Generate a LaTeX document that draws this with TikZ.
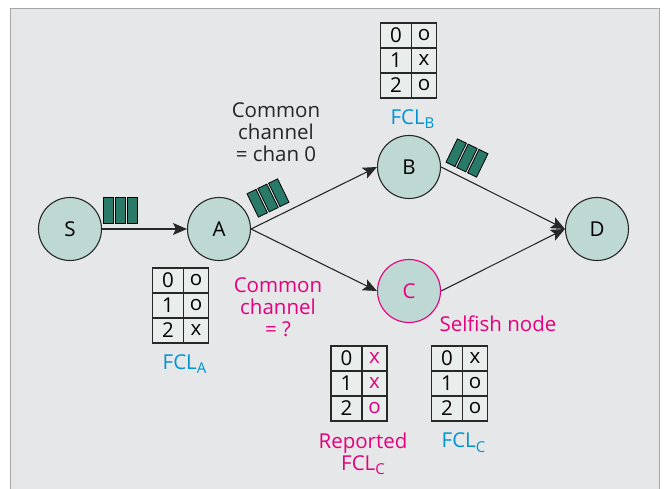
\documentclass[tikz,border=0pt]{standalone}
\usepackage{fontspec}
\setmainfont{Open Sans}
\usetikzlibrary{arrows.meta, positioning, matrix}
\definecolor{bggray}{RGB}{230,231,232}
\definecolor{nodefill}{RGB}{190,216,211}
\definecolor{pktgreen}{RGB}{42,122,106}
\definecolor{mypink}{RGB}{229,0,125}
\definecolor{myblue}{RGB}{0,147,213}
\definecolor{cellfill}{RGB}{233,238,237}
\definecolor{linegray}{RGB}{40,40,40}

\newcommand{\bigfont}{\fontsize{20.5}{22}\selectfont}
\newcommand{\lowsub}[1]{\raisebox{-0.4ex}{\fontsize{15}{15}\selectfont #1}}
% three packets queued on a link
\newcommand{\pktgroup}[2]{%
  \begin{scope}[shift={#1}, rotate=#2]
    \foreach \dx in {-12,0,12} {
      \draw[packet] (\dx-5,-13) rectangle (\dx+5,13);
    }
  \end{scope}}

\tikzset{
  station/.style={circle, draw=linegray, line width=1.1pt, fill=nodefill,
    minimum size=63pt, inner sep=0pt, font=\bigfont},
  link/.style={line width=1.1pt, draw=linegray,
    -{Stealth[length=14pt, width=12pt, inset=3pt]}},
  packet/.style={draw=black, line width=0.8pt, fill=pktgreen},
  fcl/.style={matrix of nodes, column sep=-1.4pt, row sep=-1.4pt,
    nodes={draw=linegray, line width=1.4pt, fill=cellfill, minimum height=25pt,
      inner sep=0pt, anchor=center, font=\bigfont},
    column 1/.style={nodes={minimum width=31pt}},
    column 2/.style={nodes={minimum width=25pt}}},
  lbl/.style={align=center, font=\bigfont},
}

\begin{document}
\begin{tikzpicture}[x=1pt, y=-1pt]
    \useasboundingbox (0,0) rectangle (664,489);
    % Panel background
    \fill[bggray] (10,8) rectangle (659,500);
    \draw[gray!70, line width=0.8pt] (10,500) -- (10,8) -- (659,8) -- (659,500);

    % Stations
    \node[station] (S) at (70,229) {S};
    \node[station] (A) at (219,229) {A};
    \node[station] (B) at (409,167) {B};
    \node[station, draw=mypink, text=mypink] (C) at (409,291) {C};
    \node[station] (D) at (597,229) {D};

    % Links
    \draw[link] (S.east) -- (A.west);
    \draw[link] (A.east) -- (B.west);
    \draw[link] (A.east) -- (C.west);
    \draw[link] (B.east) -- (D.west);
    \draw[link] (C.east) -- (D.west);

    % Packets on the links
    \pktgroup{(120,210)}{0}
    \pktgroup{(268,198)}{26}
    \pktgroup{(467,158)}{-26}

    % Channel lists
    \matrix (fclA) [fcl] at (180.5,305.5) {0 & o \\ 1 & o \\ 2 & x \\};
    \matrix (fclB) [fcl] at (408.5,60.5) {0 & o \\ 1 & x \\ 2 & o \\};
    \matrix (fclR) [fcl] at (359,383.5) {0 & |[text=mypink]| x \\ 1 & |[text=mypink]| x \\ 2 & |[text=mypink]| o \\};
    \matrix (fclC) [fcl] at (459.5,383.5) {0 & x \\ 1 & o \\ 2 & o \\};

    \node[lbl, myblue, below=4pt of fclA, xshift=4pt] (labA) {FCL\lowsub{A}};
    \node[lbl, myblue, below=4pt of fclB, xshift=4pt] (labB) {FCL\lowsub{B}};
    \node[lbl, mypink, below=4pt of fclR, xshift=4pt] (labR) {Reported\\FCL\lowsub{C}};
    \node[lbl, myblue, below=4pt of fclC, xshift=4pt] (labC) {FCL\lowsub{C}};

    % Notes
    \node[lbl, text=black!85] (chan0) at (276,132) {Common\\channel\\= chan 0};
    \node[lbl, mypink] (chanq) at (278,307) {Common\\channel\\= ?};
    \node[lbl, mypink, anchor=west] (selfish) at (436,324) {Selfish node};
\end{tikzpicture}
\end{document}
